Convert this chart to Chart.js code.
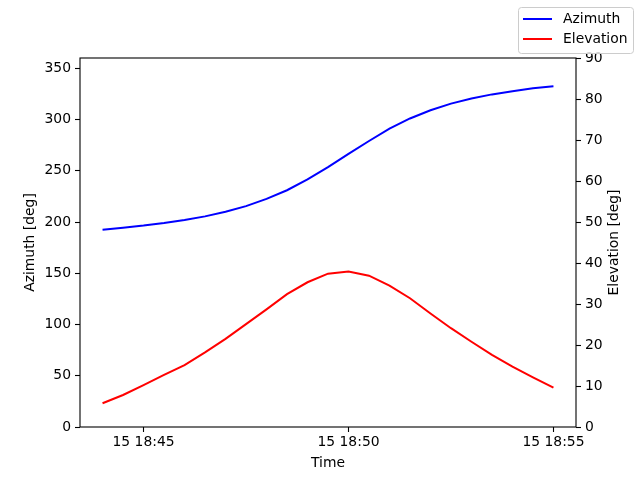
<!DOCTYPE html>
<html>
<head>
<meta charset="utf-8">
<script src="https://cdn.jsdelivr.net/npm/chart.js@4/dist/chart.umd.min.js"></script>
<style>
  body { margin: 0; background: #fff; }
  canvas { display: block; }
</style>
</head>
<body>
<canvas id="passChart" width="640" height="480"></canvas>
<script>
// samples every 30 s, day 15
const times = [
  "18:44:00", "18:44:30", "18:45:00", "18:45:30", "18:46:00", "18:46:30",
  "18:47:00", "18:47:30", "18:48:00", "18:48:30", "18:49:00", "18:49:30",
  "18:50:00", "18:50:30", "18:51:00", "18:51:30", "18:52:00", "18:52:30",
  "18:53:00", "18:53:30", "18:54:00", "18:54:30", "18:55:00"
];
const azimuth = [
  192.5, 194.5, 196.5, 199, 202, 205.5, 210, 215.5, 222.5, 231, 241.5, 253.5,
  266.5, 279, 291, 301, 309, 315.5, 320.5, 324.5, 327.5, 330.5, 332.5
];
const elevation = [
  5.8, 7.8, 10.2, 12.7, 15.1, 18.2, 21.5, 25.1, 28.7, 32.4, 35.3, 37.4,
  37.9, 36.9, 34.5, 31.4, 27.7, 24.1, 20.8, 17.6, 14.7, 12.1, 9.6
];
const xTickLabels = ["18:45", "18:50", "18:55"];
const azTicks = [0, 50, 100, 150, 200, 250, 300, 350];
const elTicks = [0, 10, 20, 30, 40, 50, 60, 70, 80, 90];

function toSec(t) {
  const p = t.split(":").map(Number);
  return p[0] * 3600 + p[1] * 60 + (p[2] || 0);
}
function fmt(sec) {
  const h = Math.floor(sec / 3600);
  const m = Math.round((sec - h * 3600) / 60);
  return "15 " + h + ":" + String(m).padStart(2, "0");
}

const FONT = { family: "DejaVu Sans", size: 13.9 };
const tickGrid = { drawOnChartArea: false, color: "#000", tickLength: 5, tickWidth: 1.1 };

// box around the plot, like the matplotlib spines, plus the right axis title
// (chart.js turns right-side titles the other way round)
const framePlugin = {
  id: "frame",
  afterDraw(chart) {
    const a = chart.chartArea, ctx = chart.ctx;
    ctx.save();
    ctx.strokeStyle = "#000";
    ctx.lineWidth = 1.1;
    ctx.strokeRect(a.left, a.top, a.right - a.left, a.bottom - a.top);
    ctx.translate(614, (a.top + a.bottom) / 2);
    ctx.rotate(-Math.PI / 2);
    ctx.font = "13.9px 'DejaVu Sans'";
    ctx.fillStyle = "#000";
    ctx.textAlign = "center";
    ctx.textBaseline = "middle";
    ctx.fillText("Elevation [deg]", 0, 0);
    ctx.restore();
  }
};

// legend in the top right corner of the figure
const legendPlugin = {
  id: "figLegend",
  afterDraw(chart) {
    const ctx = chart.ctx;
    const x = 518.5, y = 7.5, w = 115, h = 46;
    ctx.save();
    ctx.fillStyle = "rgba(255,255,255,0.8)";
    ctx.strokeStyle = "#cccccc";
    ctx.lineWidth = 1;
    ctx.beginPath();
    ctx.roundRect(x, y, w, h, 3);
    ctx.fill();
    ctx.stroke();
    ctx.font = "13.9px 'DejaVu Sans'";
    ctx.textBaseline = "middle";
    chart.data.datasets.forEach((ds, i) => {
      const ly = 19 + i * 20;
      ctx.strokeStyle = ds.borderColor;
      ctx.lineWidth = 2;
      ctx.beginPath();
      ctx.moveTo(523, ly);
      ctx.lineTo(552, ly);
      ctx.stroke();
      ctx.fillStyle = "#000";
      ctx.fillText(ds.label, 563, ly);
    });
    ctx.restore();
  }
};

new Chart(document.getElementById("passChart"), {
  type: "line",
  data: {
    datasets: [
      {
        label: "Azimuth",
        data: times.map((t, i) => ({ x: toSec(t), y: azimuth[i] })),
        borderColor: "blue",
        borderWidth: 2,
        pointRadius: 0,
        yAxisID: "y"
      },
      {
        label: "Elevation",
        data: times.map((t, i) => ({ x: toSec(t), y: elevation[i] })),
        borderColor: "red",
        borderWidth: 2,
        pointRadius: 0,
        yAxisID: "y1"
      }
    ]
  },
  options: {
    responsive: false,
    animation: false,
    layout: { padding: { top: 58, left: 0, right: 0, bottom: 0 } },
    plugins: { legend: { display: false }, tooltip: { enabled: false } },
    scales: {
      x: {
        type: "linear",
        min: toSec("18:43:27"),
        max: toSec("18:55:33"),
        afterBuildTicks: axis => { axis.ticks = xTickLabels.map(t => ({ value: toSec(t) })); },
        afterFit: axis => { axis.height = 53; },
        grid: tickGrid,
        border: { display: false },
        ticks: { color: "#000", font: FONT, padding: 2, maxRotation: 0, callback: v => fmt(v) },
        title: { display: true, text: "Time", color: "#000", font: FONT, padding: { top: 2, bottom: 8 } }
      },
      y: {
        position: "left",
        min: 0,
        max: 360,
        afterBuildTicks: axis => { axis.ticks = azTicks.map(v => ({ value: v })); },
        afterFit: axis => { axis.width = 80; },
        grid: tickGrid,
        border: { display: false },
        ticks: { color: "#000", font: FONT, padding: 4 },
        title: { display: true, text: "Azimuth [deg]", color: "#000", font: FONT, padding: { top: 22, bottom: 0 } }
      },
      y1: {
        position: "right",
        min: 0,
        max: 90,
        afterBuildTicks: axis => { axis.ticks = elTicks.map(v => ({ value: v })); },
        afterFit: axis => { axis.width = 64; },
        grid: tickGrid,
        border: { display: false },
        ticks: { color: "#000", font: FONT, padding: 4 }
      }
    }
  },
  plugins: [framePlugin, legendPlugin]
});
</script>
</body>
</html>
